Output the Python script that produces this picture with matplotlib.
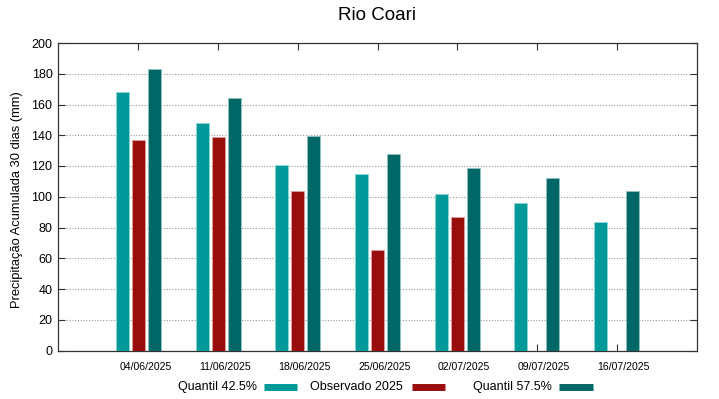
import matplotlib
matplotlib.use("Agg")
import matplotlib.pyplot as plt
import matplotlib.transforms as mtransforms
from matplotlib.lines import Line2D
import numpy as np

plt.rcParams['font.family'] = ['Liberation Sans', 'DejaVu Sans']

dates = ["04/06/2025", "11/06/2025", "18/06/2025", "25/06/2025",
         "02/07/2025", "09/07/2025", "16/07/2025"]
q425 = [168, 148, 120.5, 114.5, 102, 96, 83.5]
observed = [137, 139, 104, 65.5, 87, np.nan, np.nan]
q575 = [183, 164, 139.5, 127.5, 119, 112.5, 104]

c_q425 = "#009999"
c_obs = "#990d0d"
c_q575 = "#006666"

fig = plt.figure(figsize=(7.19, 3.99), dpi=100)
W, H = 719, 399
L, R, T, B = 58, 697, 43, 350.5
ax = fig.add_axes([L / W, 1 - B / H, (R - L) / W, (B - T) / H])

x = np.arange(len(dates))
bw = 0.165
off = 0.2
kw = dict(width=bw, linewidth=0.6, zorder=3)
ax.bar(x - off, q425, color=c_q425, edgecolor="#8fd6d6", **kw)
ax.bar(x, observed, color=c_obs, edgecolor="#e0a0a0", **kw)
ax.bar(x + off, q575, color=c_q575, edgecolor="#8fc4c4", **kw)

ax.set_xlim(-1.01, 7.01)
ax.set_ylim(0, 200)
ax.set_yticks(np.arange(0, 201, 20))
ax.set_xticks(x)
ax.set_xticklabels([])
shift = mtransforms.ScaledTranslation(7 / 100, -17 / 100, fig.dpi_scale_trans)
trans = mtransforms.blended_transform_factory(ax.transData, ax.transAxes) + shift
for xi, lab in zip(x, dates):
    ax.text(xi, 0, lab, transform=trans, ha='center', va='center', fontsize=7.6)

ax.tick_params(axis='y', labelsize=9, direction='in', length=5, right=True, width=0.8, pad=4, colors='#333333', labelcolor='black')
ax.tick_params(axis='x', direction='in', length=5, top=True, width=0.8, colors='#333333')

for yv in range(20, 200, 20):
    ax.axhline(yv, color="#999999", linestyle=(0, (1, 1.5)), linewidth=0.8, zorder=1)

for s in ax.spines.values():
    s.set_color("#333333")
    s.set_linewidth(0.9)

ax.set_ylabel("Precipitação Acumulada 30 dias (mm)", fontsize=9.3)
ax.yaxis.set_label_coords(23 / W, 0.5, transform=fig.transFigure)

fig.text(377 / W, 1 - 15 / H, "Rio Coari", ha='center', va='center', fontsize=13.5)

# legend (text followed by sample, gnuplot style)
ly = 1 - 387 / H
items = [("Quantil 42.5%", c_q425, 257, 264, 297),
         ("Observado 2025", c_obs, 403, 412, 445),
         ("Quantil 57.5%", c_q575, 552, 559, 593)]
for label, col, tx, x0, x1 in items:
    fig.text(tx / W, ly, label, ha='right', va='center', fontsize=9)
    fig.add_artist(Line2D([x0 / W, x1 / W], [ly, ly], color=col, linewidth=5,
                          solid_capstyle='butt', transform=fig.transFigure))

fig.savefig("out.png", dpi=100)
